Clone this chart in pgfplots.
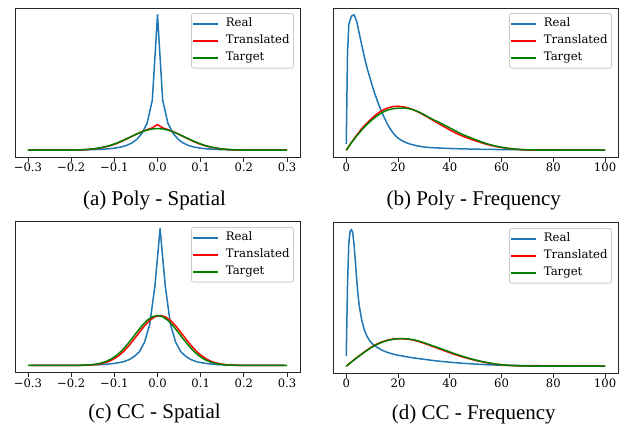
\documentclass[border=0pt]{standalone}
\usepackage{fontspec}
\setmainfont{Liberation Serif}
\newfontfamily\dvs{DejaVu Serif}
\usepackage{pgfplots}
\pgfplotsset{compat=1.18}

\definecolor{c0}{HTML}{1F77B4}
\definecolor{mplgreen}{HTML}{008000}

\pgfplotsset{legend image code/.code={\draw[#1,line width=1.5pt] (0pt,0pt) -- (25pt,0pt);}}
\pgfplotsset{
  panel/.style={
    scale only axis, ytick=\empty, xtick pos=bottom, tick align=outside,
    major tick length=4.5pt,
    axis line style={black!85,line width=0.8pt},
    tick style={black!85,line width=0.8pt},
    xticklabel style={font=\dvs\fontsize{11.6}{13}\selectfont,inner sep=1.5pt},
    ymin=-0.05, ymax=1.05,
    every axis plot/.append style={line width=1.5pt,line join=round,no markers},
    legend cell align=left,
    legend style={at={(1,1)},anchor=north east,xshift=-6pt,yshift=-5pt,
      draw=black!20,fill=white,rounded corners=2.5pt,line width=0.8pt,
      font=\dvs\fontsize{11.7}{13}\selectfont,
      inner xsep=1pt,inner ysep=5pt,row sep=6.3pt,
      /tikz/every odd column/.append style={column sep=4pt},
      nodes={inner ysep=0pt,inner xsep=3pt,text height=8.4pt,text depth=2.3pt}},
  },
  spatial/.style={panel,xmin=-0.33,xmax=0.33,
    xtick={-0.3,-0.2,-0.1,0,0.1,0.2,0.3},
    xticklabels={−0.3,−0.2,−0.1,0.0,0.1,0.2,0.3}},
  freq/.style={panel,xmin=-5,xmax=105,
    xtick={0,20,40,60,80,100},xticklabels={0,20,40,60,80,100}},
}

\begin{document}
\begin{tikzpicture}
\useasboundingbox (0,0) rectangle (624pt,-426pt);
% ---------- (a) Poly - Spatial ----------
\begin{axis}[spatial,at={(15pt,-157pt)},anchor=south west,width=285pt,height=149pt]
  \addplot[c0] coordinates {(-0.3,0)(-0.288,0.0001)(-0.276,0.0002)(-0.264,0.0003)(-0.252,0.0004)(-0.24,0.0006)(-0.228,0.0008)(-0.216,0.001)(-0.204,0.0014)(-0.192,0.0018)(-0.18,0.0023)(-0.168,0.003)(-0.156,0.0038)(-0.144,0.005)(-0.132,0.0065)(-0.12,0.009)(-0.108,0.012)(-0.096,0.017)(-0.084,0.024)(-0.072,0.035)(-0.06,0.052)(-0.048,0.08)(-0.036,0.125)(-0.024,0.2)(-0.012,0.37)(0,1.0)(0.012,0.37)(0.024,0.2)(0.036,0.125)(0.048,0.08)(0.06,0.052)(0.072,0.035)(0.084,0.024)(0.096,0.017)(0.108,0.012)(0.12,0.009)(0.132,0.0065)(0.144,0.005)(0.156,0.0038)(0.168,0.003)(0.18,0.0023)(0.192,0.0018)(0.204,0.0014)(0.216,0.001)(0.228,0.0008)(0.24,0.0006)(0.252,0.0004)(0.264,0.0003)(0.276,0.0002)(0.288,0.0001)(0.3,0)};
  \addlegendentry{Real}
  \addplot[red] coordinates {(-0.3,0)(-0.252,0)(-0.24,0.0001)(-0.228,0.0002)(-0.216,0.0004)(-0.204,0.0008)(-0.192,0.0015)(-0.18,0.0026)(-0.168,0.0043)(-0.156,0.007)(-0.144,0.011)(-0.132,0.017)(-0.12,0.025)(-0.108,0.035)(-0.096,0.048)(-0.084,0.064)(-0.072,0.082)(-0.06,0.101)(-0.048,0.12)(-0.036,0.137)(-0.024,0.152)(-0.012,0.165)(0,0.19)(0.012,0.165)(0.024,0.152)(0.036,0.137)(0.048,0.12)(0.06,0.101)(0.072,0.082)(0.084,0.064)(0.096,0.048)(0.108,0.035)(0.12,0.025)(0.132,0.017)(0.144,0.011)(0.156,0.007)(0.168,0.0043)(0.18,0.0026)(0.192,0.0015)(0.204,0.0008)(0.216,0.0004)(0.228,0.0002)(0.24,0.0001)(0.252,0)(0.3,0)};
  \addlegendentry{Translated}
  \addplot[mplgreen] coordinates {(-0.3,0)(-0.252,0)(-0.24,0.0001)(-0.228,0.0002)(-0.216,0.0005)(-0.204,0.0009)(-0.192,0.0017)(-0.18,0.0029)(-0.168,0.0048)(-0.156,0.0078)(-0.144,0.0122)(-0.132,0.0184)(-0.12,0.0268)(-0.108,0.0377)(-0.096,0.051)(-0.084,0.0667)(-0.072,0.0841)(-0.06,0.1024)(-0.048,0.1202)(-0.036,0.1362)(-0.024,0.149)(-0.012,0.1572)(0,0.16)(0.012,0.1572)(0.024,0.149)(0.036,0.1362)(0.048,0.1202)(0.06,0.1024)(0.072,0.0841)(0.084,0.0667)(0.096,0.051)(0.108,0.0377)(0.12,0.0268)(0.132,0.0184)(0.144,0.0122)(0.156,0.0078)(0.168,0.0048)(0.18,0.0029)(0.192,0.0017)(0.204,0.0009)(0.216,0.0005)(0.228,0.0002)(0.24,0.0001)(0.252,0)(0.3,0)};
  \addlegendentry{Target}
\end{axis}
% ---------- (b) Poly - Frequency ----------
\begin{axis}[freq,at={(333.3pt,-157pt)},anchor=south west,width=284.7pt,height=149pt]
  \addplot[c0] coordinates {(0,0.047)(0.5,0.72)(1,0.93)(2,0.99)(3,1.0)(4,0.955)(5,0.865)(6,0.775)(7,0.69)(8,0.61)(9,0.545)(10,0.48)(11,0.42)(12,0.365)(13,0.315)(14,0.27)(15,0.228)(16,0.19)(17,0.158)(18,0.13)(19,0.107)(20,0.09)(21,0.077)(22,0.066)(23,0.057)(24,0.05)(25,0.044)(26,0.039)(27,0.034)(28,0.03)(30,0.024)(32,0.02)(35,0.017)(40,0.013)(45,0.01)(50,0.008)(55,0.006)(60,0.005)(70,0.003)(80,0.002)(90,0.001)(100,0.001)};
  \addlegendentry{Real}
  \addplot[red] coordinates {(0,0)(2,0.058)(4,0.11)(6,0.16)(8,0.2)(10,0.238)(12,0.27)(14,0.295)(16,0.312)(18,0.322)(20,0.325)(22,0.321)(24,0.312)(26,0.298)(28,0.28)(30,0.26)(32,0.238)(34,0.215)(36,0.193)(38,0.172)(40,0.15)(42,0.13)(44,0.112)(46,0.096)(48,0.082)(50,0.069)(52,0.057)(54,0.045)(56,0.035)(58,0.027)(60,0.02)(62,0.014)(64,0.01)(66,0.006)(68,0.004)(70,0.002)(75,0.001)(80,0)(100,0)};
  \addlegendentry{Translated}
  \addplot[mplgreen] coordinates {(0,0)(2,0.055)(4,0.105)(6,0.15)(8,0.19)(10,0.225)(12,0.255)(14,0.28)(16,0.297)(18,0.306)(20,0.31)(22,0.312)(24,0.308)(26,0.298)(28,0.283)(30,0.264)(32,0.242)(34,0.222)(36,0.205)(38,0.185)(40,0.165)(42,0.145)(44,0.125)(46,0.108)(48,0.093)(50,0.078)(52,0.063)(54,0.05)(56,0.039)(58,0.03)(60,0.022)(62,0.016)(64,0.011)(66,0.007)(68,0.005)(70,0.003)(75,0.001)(80,0)(100,0)};
  \addlegendentry{Target}
\end{axis}
% ---------- (c) CC - Spatial ----------
\begin{axis}[spatial,at={(15pt,-372.3pt)},anchor=south west,width=285pt,height=150.6pt,
  legend style={yshift=-0.3pt}]
  \addplot[c0] coordinates {(-0.294,0)(-0.258,0)(-0.246,0.0001)(-0.234,0.0002)(-0.222,0.0003)(-0.21,0.0005)(-0.198,0.0008)(-0.186,0.0012)(-0.174,0.0018)(-0.162,0.0025)(-0.15,0.0035)(-0.138,0.005)(-0.126,0.007)(-0.114,0.01)(-0.102,0.014)(-0.09,0.02)(-0.078,0.028)(-0.066,0.042)(-0.054,0.065)(-0.042,0.1)(-0.03,0.17)(-0.018,0.3)(-0.006,0.58)(0.006,1.0)(0.018,0.58)(0.03,0.3)(0.042,0.17)(0.054,0.1)(0.066,0.065)(0.078,0.042)(0.09,0.028)(0.102,0.02)(0.114,0.014)(0.126,0.01)(0.138,0.007)(0.15,0.005)(0.162,0.0035)(0.174,0.0025)(0.186,0.0018)(0.198,0.0012)(0.21,0.0008)(0.222,0.0005)(0.234,0.0003)(0.246,0.0002)(0.258,0.0001)(0.27,0)(0.294,0)};
  \addlegendentry{Real}
  \addplot[red] coordinates {(-0.294,0)(-0.222,0)(-0.21,0.0001)(-0.198,0.0002)(-0.186,0.0005)(-0.174,0.0011)(-0.162,0.0024)(-0.15,0.0048)(-0.138,0.0091)(-0.126,0.0164)(-0.114,0.0281)(-0.102,0.0458)(-0.09,0.0708)(-0.078,0.104)(-0.066,0.1451)(-0.054,0.1923)(-0.042,0.2422)(-0.03,0.2898)(-0.018,0.3295)(-0.006,0.3558)(0.006,0.365)(0.018,0.3558)(0.03,0.3295)(0.042,0.2898)(0.054,0.2422)(0.066,0.1923)(0.078,0.1451)(0.09,0.104)(0.102,0.0708)(0.114,0.0458)(0.126,0.0281)(0.138,0.0164)(0.15,0.0091)(0.162,0.0048)(0.174,0.0024)(0.186,0.0011)(0.198,0.0005)(0.21,0.0002)(0.222,0.0001)(0.234,0)(0.294,0)};
  \addlegendentry{Translated}
  \addplot[mplgreen] coordinates {(-0.3,0)(-0.228,0)(-0.216,0.0001)(-0.204,0.0002)(-0.192,0.0005)(-0.18,0.0011)(-0.168,0.0024)(-0.156,0.0048)(-0.144,0.0091)(-0.132,0.0164)(-0.12,0.0281)(-0.108,0.0458)(-0.096,0.0708)(-0.084,0.104)(-0.072,0.1451)(-0.06,0.1923)(-0.048,0.2422)(-0.036,0.2898)(-0.024,0.3295)(-0.012,0.3558)(0,0.365)(0.012,0.3558)(0.024,0.3295)(0.036,0.2898)(0.048,0.2422)(0.06,0.1923)(0.072,0.1451)(0.084,0.104)(0.096,0.0708)(0.108,0.0458)(0.12,0.0281)(0.132,0.0164)(0.144,0.0091)(0.156,0.0048)(0.168,0.0024)(0.18,0.0011)(0.192,0.0005)(0.204,0.0002)(0.216,0.0001)(0.228,0)(0.3,0)};
  \addlegendentry{Target}
\end{axis}
% ---------- (d) CC - Frequency ----------
\begin{axis}[freq,at={(333.3pt,-373pt)},anchor=south west,width=284.7pt,height=150.5pt,
  legend style={yshift=-0.5pt}]
  \addplot[c0] coordinates {(0,0.074)(0.5,0.6)(1,0.9)(1.5,0.985)(2,1.0)(2.5,0.975)(3,0.89)(3.5,0.77)(4,0.64)(4.5,0.53)(5,0.445)(6,0.335)(7,0.265)(8,0.218)(9,0.188)(10,0.165)(11,0.15)(12,0.137)(14,0.115)(16,0.1)(18,0.089)(20,0.08)(25,0.063)(30,0.05)(35,0.038)(40,0.029)(45,0.021)(50,0.015)(55,0.01)(60,0.007)(70,0.004)(80,0.002)(90,0.001)(100,0.001)};
  \addlegendentry{Real}
  \addplot[red] coordinates {(0,0)(2,0.031)(4,0.062)(6,0.09)(8,0.118)(10,0.143)(12,0.163)(14,0.179)(16,0.19)(18,0.198)(20,0.201)(22,0.2)(24,0.197)(26,0.19)(28,0.18)(30,0.168)(32,0.154)(34,0.14)(36,0.126)(38,0.112)(40,0.098)(42,0.085)(44,0.073)(46,0.062)(48,0.052)(50,0.042)(52,0.034)(54,0.026)(56,0.02)(58,0.014)(60,0.01)(62,0.007)(64,0.004)(66,0.003)(70,0.001)(75,0)(100,0)};
  \addlegendentry{Translated}
  \addplot[mplgreen] coordinates {(0,0)(2,0.03)(4,0.06)(6,0.088)(8,0.115)(10,0.14)(12,0.16)(14,0.176)(16,0.188)(18,0.196)(20,0.2)(22,0.201)(24,0.199)(26,0.193)(28,0.184)(30,0.172)(32,0.158)(34,0.145)(36,0.132)(38,0.118)(40,0.104)(42,0.091)(44,0.078)(46,0.066)(48,0.055)(50,0.045)(52,0.036)(54,0.028)(56,0.021)(58,0.015)(60,0.011)(62,0.007)(64,0.005)(66,0.003)(70,0.001)(75,0)(100,0)};
  \addlegendentry{Target}
\end{axis}
% ---------- captions ----------
\node[font=\fontsize{21}{24}\selectfont] at (154.5pt,-200pt) {(a) Poly - Spatial};
\node[font=\fontsize{21}{24}\selectfont] at (473.7pt,-200pt) {(b) Poly - Frequency};
\node[font=\fontsize{21}{24}\selectfont] at (154.5pt,-413.5pt) {(c) CC - Spatial};
\node[font=\fontsize{21}{24}\selectfont] at (473.7pt,-414.5pt) {(d) CC - Frequency};
\end{tikzpicture}
\end{document}
